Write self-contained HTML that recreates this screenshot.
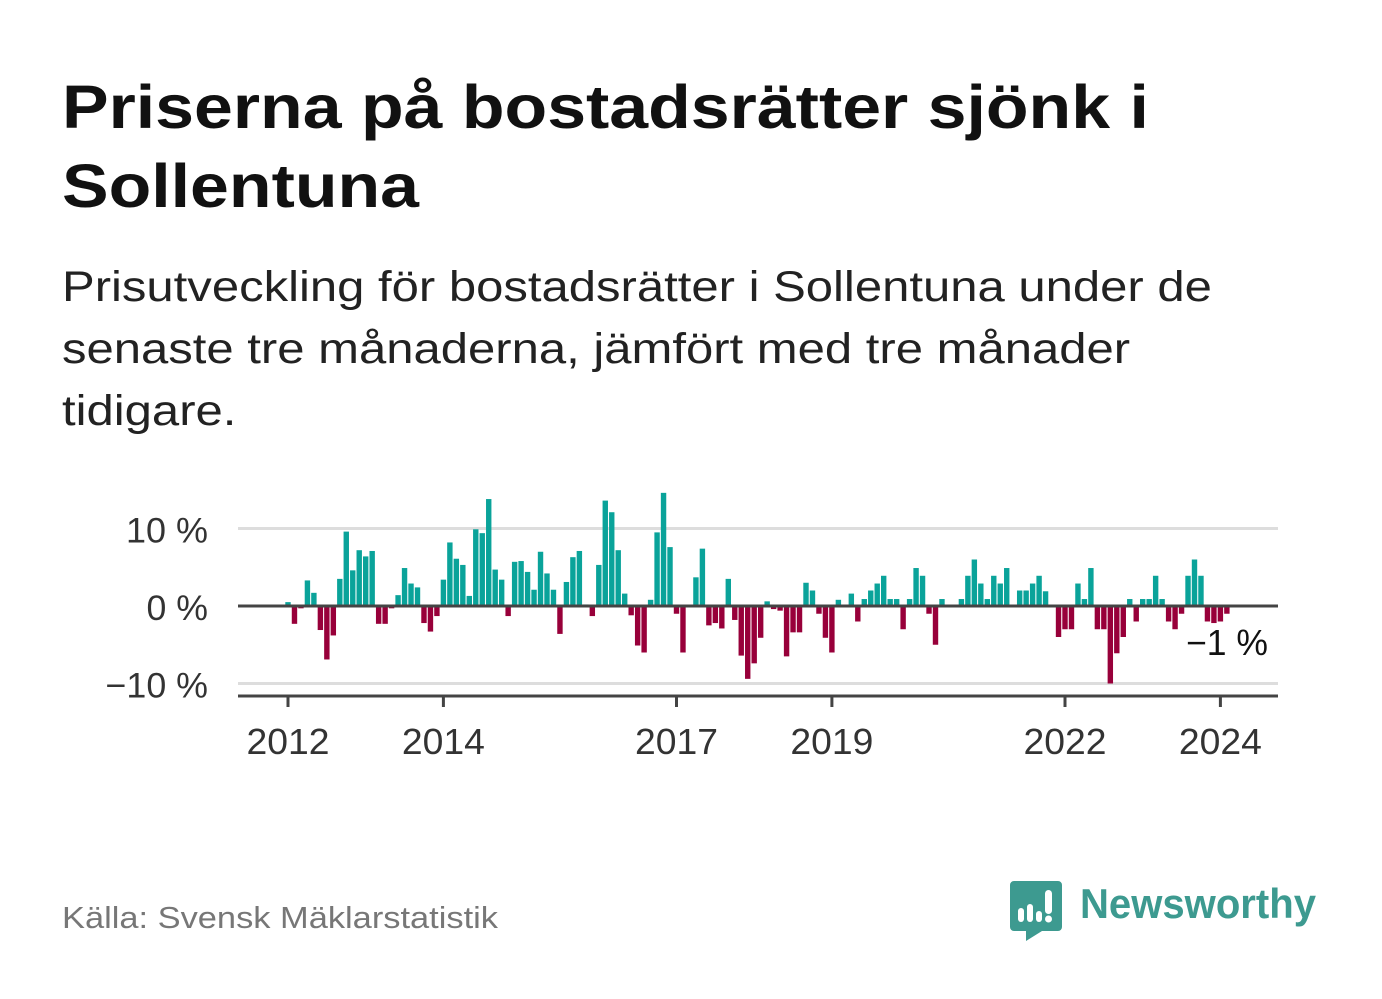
<!DOCTYPE html>
<html><head><meta charset="utf-8"><style>
body{margin:0;width:1382px;height:999px;background:#fff;font-family:"Liberation Sans","DejaVu Sans",sans-serif;position:relative;overflow:hidden}
.t{position:absolute;left:62px;margin:0;white-space:nowrap;transform-origin:0 0}
</style></head><body>
<div class="t" style="top:68px;font-size:61px;font-weight:bold;line-height:79px;color:#111;transform:scaleX(1.145)">Priserna på bostadsrätter sjönk i<br>Sollentuna</div>
<div class="t" style="top:256px;font-size:43px;line-height:62px;color:#222;transform:scaleX(1.14)">Prisutveckling för bostadsrätter i Sollentuna under de<br>senaste tre månaderna, jämfört med tre månader<br>tidigare.</div>
<svg id="chart" width="1382" height="999" style="position:absolute;left:0;top:0" font-family="Liberation Sans, sans-serif"></svg>
<div class="t" style="top:900px;font-size:31px;color:#777;transform:scaleX(1.11)">Källa: Svensk Mäklarstatistik</div>
<svg style="position:absolute;left:1010px;top:878px" width="320" height="64">
<path d="M4 3h44a4 4 0 0 1 4 4v42a4 4 0 0 1-4 4H32l-16 10v-10H4a4 4 0 0 1-4-4V7a4 4 0 0 1 4-4z" fill="#3d9a90"/>
<rect x="8" y="30" width="6" height="14" rx="3" fill="#fff"/><rect x="17" y="26" width="6" height="18" rx="3" fill="#fff"/><rect x="26" y="33" width="6" height="11" rx="3" fill="#fff"/><rect x="35" y="12" width="7" height="24" rx="3.5" fill="#fff"/><circle cx="38.5" cy="41" r="3.5" fill="#fff"/>
<text x="70" y="40" font-size="42" font-weight="bold" fill="#3d9a90" textLength="236" lengthAdjust="spacingAndGlyphs" font-family="Liberation Sans, sans-serif">Newsworthy</text>
</svg>
<script>
const values=[0.5,-2.3,-0.3,3.3,1.7,-3.1,-6.9,-3.8,3.5,9.6,4.6,7.2,6.4,7.1,-2.3,-2.3,-0.3,1.4,4.9,2.9,2.4,-2.2,-3.3,-1.3,
3.4,8.2,6.1,5.3,1.3,9.9,9.4,13.8,4.7,3.4,-1.3,5.7,5.8,4.4,2.1,7.0,4.2,2.1,-3.6,3.1,6.3,7.1,0.2,-1.3,
5.3,13.6,12.1,7.2,1.6,-1.2,-5.1,-6.0,0.8,9.5,14.6,7.6,-1.0,-6.0,0,3.7,7.4,-2.5,-2.2,-2.9,3.5,-1.8,-6.4,-9.4,
-7.4,-4.1,0.6,-0.4,-0.6,-6.5,-3.4,-3.4,3.0,2.0,-1.0,-4.1,-6.0,0.8,0,1.6,-2.0,0.9,2.0,2.9,3.9,0.9,0.9,-3.0,
0.9,4.9,3.9,-1.0,-5.0,0.9,0,0,0.9,3.9,6.0,2.9,0.9,3.9,2.9,4.9,0,2.0,2.0,2.9,3.9,1.9,0,-4.0,
-3.0,-3.0,2.9,0.9,4.9,-3.0,-3.0,-10.0,-6.1,-4.0,0.9,-2.0,0.9,0.9,3.9,0.9,-2.0,-3.0,-1.0,3.9,6.0,3.9,-2.0,-2.2,-2.0,-1.0];
const yTicks=[10,0,-10];
const yTickLabels=["10 %","0 %","\u221210 %"];
const xYears=[2012,2014,2017,2019,2022,2024];
const startYear=2012;
const lastLabel="\u22121 %";
const NS="http://www.w3.org/2000/svg";
const svg=document.getElementById('chart');
const x0=288,pxYear=77.7,y0=606,pxPct=7.75,L=238,R=1278;
const xs=m=>x0+m*pxYear/12;
const ys=v=>y0-v*pxPct;
function mk(t,a){const e=document.createElementNS(NS,t);for(const k in a)e.setAttribute(k,a[k]);svg.appendChild(e);return e;}
yTicks.forEach((v,i)=>{
  if(v!==0){const g=mk('line',{x1:L,x2:R,y1:ys(v),y2:ys(v),stroke:'#ddd','stroke-width':3});
  
  }
  const t=mk('text',{x:208,y:ys(v)+14,'text-anchor':'end','font-size':35,fill:'#333'});
  t.textContent=yTickLabels[i];
  t.setAttribute('textLength',yTickLabels[i].length*20.5);
  t.setAttribute('lengthAdjust','spacingAndGlyphs');
  
  
});
values.forEach((v,i)=>{
  const x=xs(i)-2.7;
  const r=mk('rect',{x:x,y:Math.min(ys(v),y0),width:5.4,height:Math.abs(ys(v)-y0),fill:v>=0?'#0aa39a':'#98003a'});
  
  
});
const z=mk('line',{x1:L,x2:R,y1:y0,y2:y0,stroke:'#444','stroke-width':3});


const ax=mk('line',{x1:L,x2:R,y1:696,y2:696,stroke:'#444','stroke-width':3});


xYears.forEach(yr=>{
  const x=xs((yr-startYear)*12);
  const tk=mk('line',{x1:x,x2:x,y1:696,y2:707,stroke:'#444','stroke-width':3});
  
  
  const t=mk('text',{x:x,y:754,'text-anchor':'middle','font-size':36,fill:'#333',textLength:83,lengthAdjust:'spacingAndGlyphs'});
  t.textContent=yr;
  
  
});
const ll=mk('text',{x:1268,y:655,'text-anchor':'end','font-size':36,fill:'#111',textLength:82,lengthAdjust:'spacingAndGlyphs'});
ll.textContent=lastLabel;


</script>
</body></html>
